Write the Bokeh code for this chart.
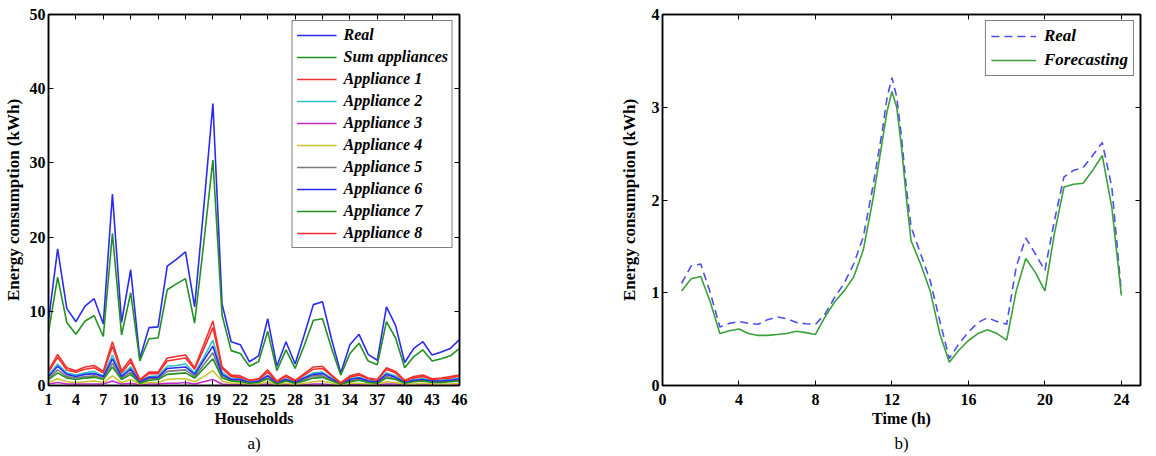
from bokeh.plotting import figure
from bokeh.layouts import row
from bokeh.models import (LinearAxis, FixedTicker, Range1d, Legend, LegendItem, Title,
                          CustomLabelingPolicy)
from bokeh.embed import file_html
from bokeh.resources import INLINE

# ---------------- data: panel a) ----------------
households = list(range(1, 47))
real_a = [8.7, 18.4, 10.4, 8.6, 10.7, 11.7, 8.3, 25.8, 8.5, 15.6,
          3.6, 7.8, 7.9, 16.1, 17.0, 18.0, 10.6, 24.0, 38.0, 11.0,
          5.9, 5.5, 3.2, 4.0, 9.0, 2.6, 5.9, 2.9, 6.8, 10.9,
          11.3, 6.2, 1.7, 5.5, 6.9, 4.2, 3.4, 10.6, 8.1, 3.1,
          5.0, 5.9, 4.1, 4.5, 5.0, 6.2]
sum_appliances = [7.2, 14.6, 8.5, 6.9, 8.7, 9.4, 6.6, 20.5, 6.8, 12.5,
                  3.3, 6.3, 6.4, 12.9, 13.7, 14.4, 8.4, 19.2, 30.4, 9.5,
                  4.7, 4.3, 2.6, 3.2, 7.3, 2.0, 4.8, 2.3, 5.4, 8.8,
                  9.0, 5.0, 1.4, 4.3, 5.7, 3.3, 2.8, 8.6, 6.4, 2.4,
                  3.9, 4.8, 3.3, 3.6, 4.0, 5.0]
appliance_1 = [2.0, 4.2, 2.4, 2.0, 2.5, 2.7, 1.9, 5.9, 2.0, 3.6,
               0.8, 1.8, 1.8, 3.7, 3.9, 4.1, 2.4, 5.5, 8.7, 2.5,
               1.4, 1.3, 0.7, 0.9, 2.1, 0.6, 1.4, 0.7, 1.6, 2.5,
               2.6, 1.4, 0.4, 1.3, 1.6, 1.0, 0.8, 2.4, 1.9, 0.7,
               1.2, 1.4, 0.9, 1.0, 1.2, 1.4]
appliance_2 = [1.4, 2.9, 1.7, 1.4, 1.7, 1.9, 1.3, 4.1, 1.4, 2.5,
               0.6, 1.2, 1.3, 2.6, 2.7, 2.9, 1.7, 3.8, 6.1, 1.8,
               0.9, 0.9, 0.5, 0.6, 1.4, 0.4, 0.9, 0.5, 1.1, 1.7,
               1.8, 1.0, 0.3, 0.9, 1.1, 0.7, 0.5, 1.7, 1.3, 0.5,
               0.8, 0.9, 0.7, 0.7, 0.8, 1.0]
appliance_3 = [0.2, 0.4, 0.2, 0.2, 0.2, 0.2, 0.2, 0.6, 0.2, 0.3,
               0.1, 0.2, 0.2, 0.3, 0.3, 0.4, 0.2, 0.5, 0.8, 0.2,
               0.1, 0.1, 0.1, 0.1, 0.2, 0.1, 0.1, 0.1, 0.1, 0.2,
               0.2, 0.1, 0.0, 0.1, 0.1, 0.1, 0.1, 0.2, 0.2, 0.1,
               0.1, 0.1, 0.1, 0.1, 0.1, 0.1]
appliance_4 = [0.4, 0.9, 0.5, 0.4, 0.5, 0.6, 0.4, 1.3, 0.4, 0.8,
               0.2, 0.4, 0.4, 0.8, 0.9, 0.9, 0.5, 1.2, 2.0, 0.6,
               0.3, 0.3, 0.2, 0.2, 0.5, 0.1, 0.3, 0.1, 0.3, 0.5,
               0.6, 0.3, 0.1, 0.3, 0.3, 0.2, 0.2, 0.5, 0.4, 0.2,
               0.2, 0.3, 0.2, 0.2, 0.2, 0.3]
appliance_5 = [1.0, 2.1, 1.2, 1.0, 1.2, 1.3, 1.0, 3.0, 1.0, 1.8,
               0.4, 0.9, 0.9, 1.9, 2.0, 2.1, 1.2, 2.8, 4.4, 1.3,
               0.7, 0.6, 0.4, 0.5, 1.0, 0.3, 0.7, 0.3, 0.8, 1.3,
               1.3, 0.7, 0.2, 0.6, 0.8, 0.5, 0.4, 1.2, 0.9, 0.4,
               0.6, 0.7, 0.5, 0.5, 0.6, 0.7]
appliance_6 = [1.2, 2.6, 1.5, 1.2, 1.5, 1.6, 1.2, 3.6, 1.2, 2.2,
               0.5, 1.1, 1.1, 2.3, 2.4, 2.5, 1.5, 3.4, 5.3, 1.5,
               0.8, 0.8, 0.4, 0.6, 1.3, 0.4, 0.8, 0.4, 1.0, 1.5,
               1.6, 0.9, 0.2, 0.8, 1.0, 0.6, 0.5, 1.5, 1.1, 0.4,
               0.7, 0.8, 0.6, 0.6, 0.7, 0.9]
appliance_7 = [0.8, 1.7, 1.0, 0.8, 1.0, 1.1, 0.8, 2.5, 0.8, 1.5,
               0.3, 0.7, 0.8, 1.5, 1.6, 1.7, 1.0, 2.3, 3.6, 1.0,
               0.6, 0.5, 0.3, 0.4, 0.9, 0.2, 0.6, 0.3, 0.6, 1.0,
               1.1, 0.6, 0.2, 0.5, 0.7, 0.4, 0.3, 1.0, 0.8, 0.3,
               0.5, 0.6, 0.4, 0.4, 0.5, 0.6]
appliance_8 = [1.8, 3.8, 2.1, 1.8, 2.2, 2.4, 1.7, 5.3, 1.7, 3.2,
               0.7, 1.6, 1.6, 3.3, 3.5, 3.7, 2.2, 4.9, 7.8, 2.3,
               1.2, 1.1, 0.7, 0.8, 1.8, 0.5, 1.2, 0.6, 1.4, 2.2,
               2.3, 1.3, 0.3, 1.1, 1.4, 0.9, 0.7, 2.2, 1.7, 0.6,
               1.0, 1.2, 0.8, 0.9, 1.0, 1.3]
series_a_names = ["Real", "Sum appliances", "Appliance 1", "Appliance 2", "Appliance 3",
                  "Appliance 4", "Appliance 5", "Appliance 6", "Appliance 7", "Appliance 8"]
series_a_values = [real_a, sum_appliances, appliance_1, appliance_2, appliance_3,
                   appliance_4, appliance_5, appliance_6, appliance_7, appliance_8]
series_a_colors = ["#2a2af2", "#229022", "#f23030", "#2cc4c4", "#c22cc2",
                   "#c8c22c", "#7a7a7a", "#2a2af2", "#229022", "#f23030"]
ticks_a_x = [1, 4, 7, 10, 13, 16, 19, 22, 25, 28, 31, 34, 37, 40, 43, 46]
ticks_a_y = [0, 10, 20, 30, 40, 50]

# ---------------- data: panel b) ----------------
time_h = [1, 1.5, 2, 2.5, 3, 3.5, 4, 4.5, 5, 5.5, 6, 6.5, 7, 7.5, 8, 8.5, 9, 9.5,
          10, 10.5, 11, 11.5, 11.75, 12, 12.25, 12.5, 12.75, 13, 13.5, 14, 14.5,
          15, 15.5, 16, 16.5, 17, 17.5, 18, 18.5, 19, 19.5, 20, 20.5, 21, 21.5,
          22, 22.5, 23, 23.5, 24]
real_b = [1.10, 1.29, 1.31, 1.00, 0.63, 0.67, 0.69, 0.67, 0.66, 0.71, 0.74, 0.72,
          0.68, 0.665, 0.66, 0.77, 0.95, 1.10, 1.31, 1.60, 2.14, 2.75,
          3.11, 3.32, 3.11, 2.68, 2.14,
          1.71, 1.42, 1.13, 0.70, 0.29, 0.45, 0.575, 0.68, 0.73, 0.69, 0.66,
          1.28, 1.59, 1.42, 1.24, 1.78, 2.25, 2.32, 2.35, 2.48, 2.62, 2.14, 1.00]
forecast_b = [1.02, 1.15, 1.175, 0.90, 0.56, 0.59, 0.61, 0.56, 0.54, 0.54, 0.55, 0.56,
              0.585, 0.57, 0.55, 0.74, 0.90, 1.02, 1.17, 1.46, 2.00, 2.64,
              2.96, 3.17, 3.00, 2.57, 2.03,
              1.56, 1.31, 1.02, 0.56, 0.25, 0.38, 0.485, 0.56, 0.60, 0.56, 0.49,
              1.02, 1.37, 1.22, 1.02, 1.64, 2.14, 2.17, 2.18, 2.32, 2.48, 1.92, 0.97]
ticks_b_x = [0, 4, 8, 12, 16, 20, 24]
ticks_b_y = [0, 1, 2, 3, 4]

FONT = "Liberation Serif"

NO_LABELS_JS = """
for (const i of indices)
    indices.unset(i)
return indices
"""


def style_axis(ax, ticks, show_labels=True):
    ax.ticker = FixedTicker(ticks=ticks)
    ax.axis_line_color = "black"
    ax.axis_line_width = 1.5
    ax.major_tick_in = 5
    ax.major_tick_out = 0
    ax.minor_tick_in = 0
    ax.minor_tick_out = 0
    ax.major_tick_line_color = "black"
    ax.major_tick_line_width = 1
    ax.major_label_text_font = FONT
    ax.major_label_text_font_style = "bold"
    ax.major_label_text_color = "black"
    ax.major_label_text_font_size = "16px"
    if show_labels:
        ax.major_label_standoff = 3
    else:
        ax.major_label_policy = CustomLabelingPolicy(code=NO_LABELS_JS)
        ax.major_label_standoff = 0
    ax.axis_label_text_font = FONT
    ax.axis_label_text_font_style = "bold"
    ax.axis_label_text_font_size = "17px"
    ax.axis_label_text_color = "black"


def make_fig(width, left, right, xr, yr, xticks, yticks, xlabel, ylabel, ylab_standoff, caption):
    p = figure(width=width, height=456, output_backend="svg", toolbar_location=None,
               x_range=xr, y_range=yr,
               min_border_left=left, min_border_right=right,
               min_border_top=13, min_border_bottom=71)
    p.xgrid.visible = False
    p.ygrid.visible = False
    p.outline_line_color = "black"
    p.outline_line_width = 1.5
    p.background_fill_color = "white"
    p.border_fill_color = "white"
    style_axis(p.xaxis[0], xticks)
    style_axis(p.yaxis[0], yticks)
    p.xaxis[0].major_label_standoff = 8
    p.xaxis[0].axis_label = xlabel
    p.xaxis[0].axis_label_standoff = 2
    p.xaxis[0].axis_label_text_font_size = "16px"
    p.yaxis[0].axis_label = ylabel
    p.yaxis[0].axis_label_standoff = ylab_standoff
    top = LinearAxis()
    style_axis(top, xticks, show_labels=False)
    p.add_layout(top, "above")
    rgt = LinearAxis()
    style_axis(rgt, yticks, show_labels=False)
    p.add_layout(rgt, "right")
    cap = Title(text=caption, align="center", text_font=FONT, text_font_size="17px",
                text_font_style="normal", text_color="black", standoff=5)
    p.add_layout(cap, "below")
    return p


# ---------------- panel a) ----------------
pa = make_fig(600, 44, 141, Range1d(1, 46), Range1d(0, 50), ticks_a_x, ticks_a_y,
              "Households", "Energy consumption (kWh)", 4, "a)")
items_a = []
for name, vals, col in zip(series_a_names, series_a_values, series_a_colors):
    r = pa.line(households, vals, line_color=col, line_width=1.6)
    items_a.append(LegendItem(label=name, renderers=[r]))
leg_a = Legend(items=items_a, location="top_right", margin=6, padding=4, spacing=2,
               label_height=20, glyph_height=20, glyph_width=40, label_standoff=7,
               label_text_font=FONT, label_text_font_style="bold italic",
               label_text_font_size="16px", label_text_color="black",
               border_line_color="black", border_line_width=1.5,
               background_fill_color="white", background_fill_alpha=1.0)
pa.add_layout(leg_a)

# ---------------- panel b) ----------------
pb = make_fig(556, 62, 16, Range1d(0, 25), Range1d(0, 4), ticks_b_x, ticks_b_y,
              "Time (h)", "Energy consumption (kWh)", 10, "b)")
rb1 = pb.line(time_h, real_b, line_color="#4d4df0", line_width=1.6, line_dash="8 5")
rb2 = pb.line(time_h, forecast_b, line_color="#3aa03a", line_width=1.6)
leg_b = Legend(items=[LegendItem(label="Real", renderers=[rb1]),
                      LegendItem(label="Forecasting", renderers=[rb2])],
               location="top_right", margin=6, padding=5, spacing=4,
               label_height=20, glyph_height=20, glyph_width=45, label_standoff=8,
               label_text_font=FONT, label_text_font_style="bold italic",
               label_text_font_size="17px", label_text_color="black",
               border_line_color="black", border_line_width=1.5,
               background_fill_color="white", background_fill_alpha=1.0)
pb.add_layout(leg_b)

layout = row(pa, pb)
open("out.html", "w").write(file_html(layout, INLINE))
